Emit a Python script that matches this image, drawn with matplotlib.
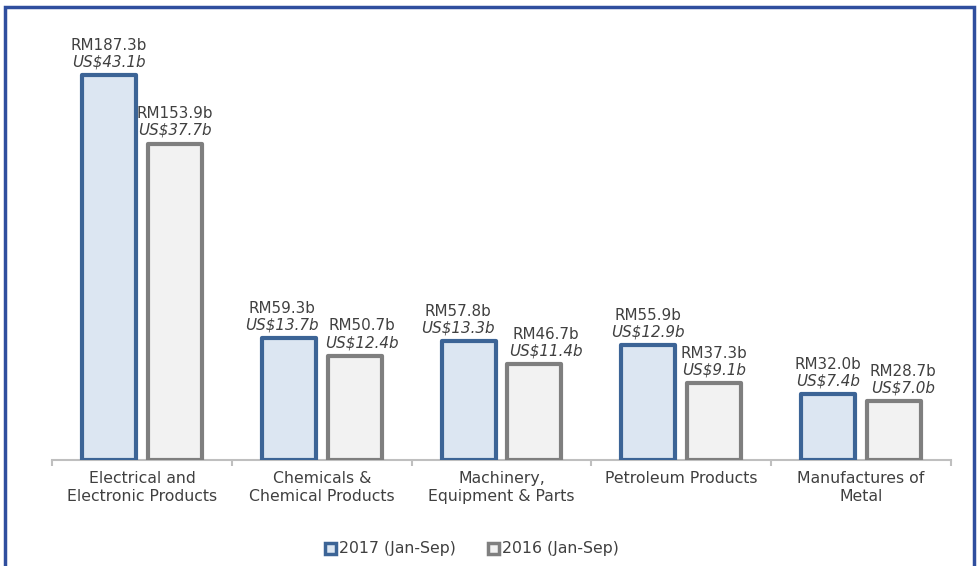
import numpy as np
import matplotlib
matplotlib.use("Agg")
from matplotlib import pyplot as plt
from matplotlib.patches import Rectangle, Patch

categories = ["Electrical and\nElectronic Products", "Chemicals &\nChemical Products",
              "Machinery,\nEquipment & Parts", "Petroleum Products", "Manufactures of\nMetal"]
rm_2017 = [187.3, 59.3, 57.8, 55.9, 32.0]
rm_2016 = [153.9, 50.7, 46.7, 37.3, 28.7]
usd_2017 = [43.1, 13.7, 13.3, 12.9, 7.4]
usd_2016 = [37.7, 12.4, 11.4, 9.1, 7.0]
series_names = ["2017 (Jan-Sep)", "2016 (Jan-Sep)"]

# horizontal nudges (points) so neighbouring labels don't collide, like the original
nudge_2017 = [0, -5, -8, 0, 0]
nudge_2016 = [0, 5, 8.5, 0, 6.5]

plt.rcParams['font.family'] = ['DejaVu Sans']
text_color = '#404040'
fs = 11.3
fs_val = 10.9

fig = plt.figure(figsize=(9.79, 5.66), dpi=100)
ax = fig.add_axes([52 / 979, 106 / 566, 899 / 979, 440 / 566])

x = np.arange(len(categories))
width = 0.30
offset = 0.183

blue_edge, blue_fill = '#3C6496', '#DCE6F2'
gray_edge, gray_fill = '#7F7F7F', '#F2F2F2'

b1 = ax.bar(x - offset, rm_2017, width, color=blue_fill, edgecolor=blue_edge,
            linewidth=3, joinstyle='round', zorder=3)
b2 = ax.bar(x + offset, rm_2016, width, color=gray_fill, edgecolor=gray_edge,
            linewidth=3, joinstyle='round', zorder=3)

# two-line value labels: RM on top, USD italic below
for bars, rm, usd, nudge in [(b1, rm_2017, usd_2017, nudge_2017),
                             (b2, rm_2016, usd_2016, nudge_2016)]:
    for bar, r, u, dx in zip(bars, rm, usd, nudge):
        cx = bar.get_x() + bar.get_width() / 2
        h = bar.get_height()
        ax.annotate(f"US${u:.1f}b", (cx, h), xytext=(dx, 9.5), textcoords='offset points',
                    ha='center', va='center', fontsize=fs_val, style='italic', color=text_color)
        ax.annotate(f"RM{r:.1f}b", (cx, h), xytext=(dx, 21.5), textcoords='offset points',
                    ha='center', va='center', fontsize=fs_val, color=text_color)

ax.set_xlim(-0.5, len(categories) - 0.5)
ax.set_ylim(0, 214)
ax.set_yticks([])
for side in ['top', 'right', 'left']:
    ax.spines[side].set_visible(False)
ax.spines['bottom'].set_color('#BFBFBF')
ax.spines['bottom'].set_linewidth(1.5)

ax.set_xticks(x)
ax.set_xticklabels(categories, fontsize=fs, color=text_color, linespacing=1.2)
ax.tick_params(axis='x', which='major', length=0, pad=8)
ax.set_xticks(np.arange(-0.5, len(categories)), minor=True)
ax.tick_params(axis='x', which='minor', length=4, width=1.5, color='#BFBFBF', direction='out')

handles = [Patch(facecolor=blue_fill, edgecolor=blue_edge, linewidth=2.5),
           Patch(facecolor=gray_fill, edgecolor=gray_edge, linewidth=2.5)]
fig.legend(handles, series_names, loc='center', bbox_to_anchor=(0.482, 17 / 566), ncol=2,
           frameon=False, fontsize=fs, handlelength=0.7, handleheight=0.7,
           handletextpad=0.2, columnspacing=2.0, labelcolor=text_color)

# blue frame around the chart
fig.patches.append(Rectangle((5 / 979, -0.02), 969 / 979, 1 - 7 / 566 + 0.02,
                             transform=fig.transFigure, fill=False,
                             edgecolor='#2F4E9E', linewidth=2.5, zorder=10))

fig.savefig("out.png", dpi=100)
